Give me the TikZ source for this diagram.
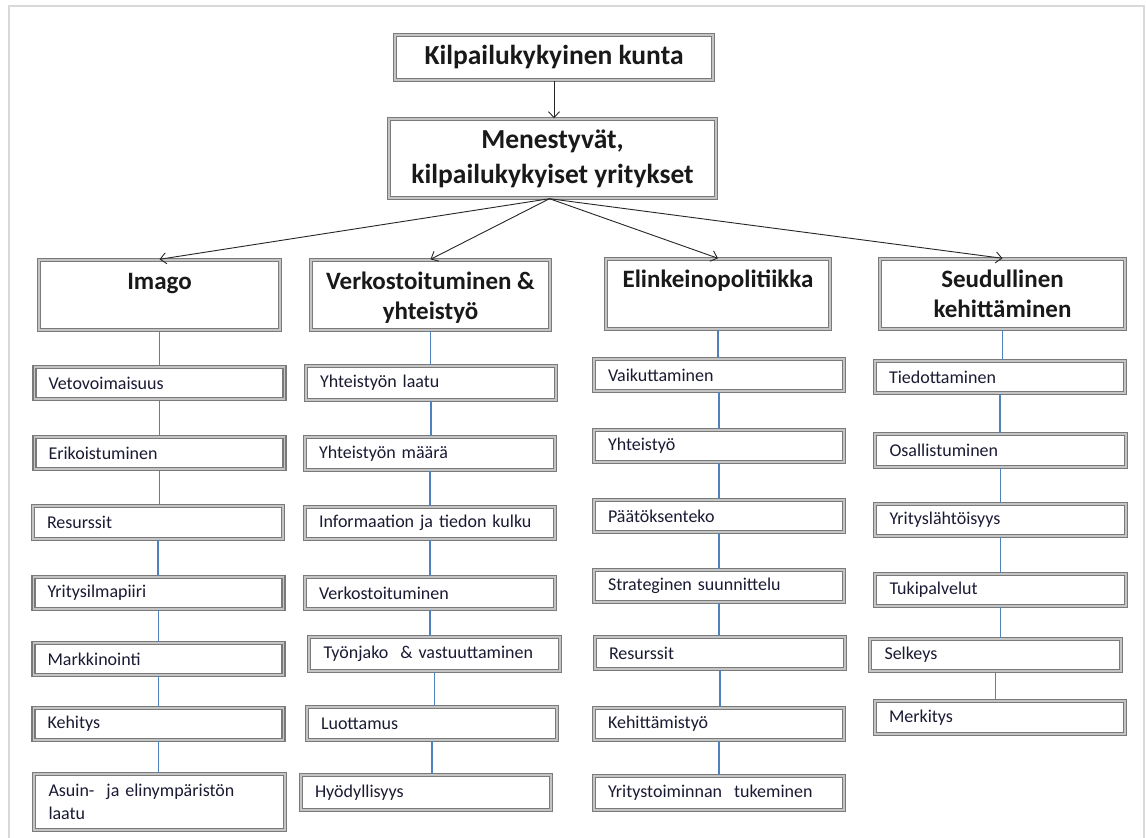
\documentclass[tikz,border=0pt]{standalone}
\usepackage{fontspec}
\setmainfont{Carlito}
\usetikzlibrary{arrows.meta}
\definecolor{boxgray}{HTML}{7A7A7A}
\definecolor{boxlight}{HTML}{C4C4C4}
\definecolor{conblue}{HTML}{4F81BD}
\definecolor{txt}{HTML}{1A1A33}
\definecolor{framegray}{HTML}{D9D9D9}
\tikzset{
  frm/.style={draw=boxgray, double=boxlight, line width=1.4pt, double distance=1.5pt, fill=white},
  sub/.style={frm, inner xsep=14pt, inner ysep=0pt, text width=222pt, align=left,
              font=\fontsize{18}{23}\selectfont, text=txt},
  catbox/.style={frm, inner sep=0pt},
  cattext/.style={font=\bfseries\fontsize{25}{30}\selectfont, align=center, anchor=base,
                  inner sep=0pt, text=black!90},
  topbox/.style={frm, inner sep=0pt, align=center, font=\bfseries\fontsize{27.5}{35}\selectfont, text=black!90},
  conn/.style={draw=conblue, line width=1.3pt},
  arr/.style={draw=black!85, line width=0.9pt, -{Straight Barb[length=6pt,width=11pt]}},
}
\newcommand\subnode[6]{\node[sub, minimum width={#4-#2-4}, minimum height={#5-#3-4}]
  (#1) at ({(#2+#4)/2},{(#3+#5)/2}) {#6};}
\newcommand\catnode[6]{\node[catbox, minimum width={#4-#2-4}, minimum height={#5-#3-4}]
  (#1) at ({(#2+#4)/2},{(#3+#5)/2}) {};}
\begin{document}
\begin{tikzpicture}[x=1pt,y=-1pt]
\useasboundingbox (0,0) rectangle (1146,838);
\fill[white] (0,0) rectangle (1146,838);
\draw[framegray, line width=2pt] (9,838) -- (9,6) -- (1144,6) -- (1144,838);

% top boxes
\node[topbox, minimum width=318, minimum height=45] (t1) at (554,57.5) {Kilpailukykyinen kunta};
\node[topbox, minimum width=327, minimum height=79] (t2) at (552.5,158.5) {Menestyvät,\\kilpailukykyiset yritykset};

% category boxes
\catnode{c1}{37}{258}{282}{332}{}
\catnode{c2}{309}{258}{552}{332}{}
\catnode{c3}{604}{257}{832}{331}{}
\catnode{c4}{878}{257}{1127}{331}{}
\node[cattext] (c1t) at ([yshift=-30pt]c1.north) {Imago};
\node[cattext] (c2t) at ([yshift=-60pt]c2.north) {Verkostoituminen \&\\yhteistyö};
\node[cattext] (c3t) at ([yshift=-29pt]c3.north) {Elinkeinopolitiikka};
\node[cattext] (c4t) at ([yshift=-59pt]c4.north) {Seudullinen\\kehittäminen};

% column 1
\subnode{s11}{33}{365}{286}{401}{Vetovoimaisuus}
\subnode{s12}{33}{435}{286}{471}{Erikoistuminen}
\subnode{s13}{32}{504}{284}{541}{Resurssit}
\subnode{s14}{32}{575}{285}{611}{Yritysilmapiiri}
\subnode{s15}{32}{641}{285}{677}{Markkinointi}
\subnode{s16}{32}{706}{285}{742}{Kehitys}
\subnode{s17}{32}{772}{287}{832}{Asuin-~ ja elinympäristön\\laatu}

% column 2
\subnode{s21}{305}{364}{557}{402}{Yhteistyön laatu}
\subnode{s22}{304}{435}{556}{472}{Yhteistyön määrä}
\subnode{s23}{304}{505}{556}{541}{Informaation ja tiedon kulku}
\subnode{s24}{304}{575}{556}{611}{Verkostoituminen}
\subnode{s25}{307}{635}{562}{673}{Työnjako~ \& vastuuttaminen}
\subnode{s26}{305}{705}{559}{742}{Luottamus}
\subnode{s27}{299}{773}{553}{812}{Hyödyllisyys}

% column 3
\subnode{s31}{593}{357}{845}{393}{Vaikuttaminen}
\subnode{s32}{592}{428}{846}{464}{Yhteistyö}
\subnode{s33}{592}{498}{846}{534}{Päätöksenteko}
\subnode{s34}{592}{568}{846}{604}{Strateginen suunnittelu}
\subnode{s35}{594}{635}{846}{671}{Resurssit}
\subnode{s36}{592}{706}{846}{742}{Kehittämistyö}
\subnode{s37}{592}{774}{846}{812}{Yritystoiminnan~ tukeminen}

% column 4
\subnode{s41}{873}{359}{1127}{395}{Tiedottaminen}
\subnode{s42}{873}{432}{1128}{469}{Osallistuminen}
\subnode{s43}{873}{502}{1128}{538}{Yrityslähtöisyys}
\subnode{s44}{873}{572}{1128}{608}{Tukipalvelut}
\subnode{s45}{868}{637}{1123}{673}{Selkeys}
\subnode{s46}{873}{699}{1127}{736}{Merkitys}

% connectors
\foreach \c in {1,2,3,4}{
  \draw[conn] (c\c.south) -- (c\c.south |- s\c1.north);
}
\foreach \a/\b in {s11/s12,s12/s13,s13/s14,s14/s15,s15/s16,s16/s17,
                   s21/s22,s22/s23,s23/s24,s24/s25,s25/s26,s26/s27,
                   s31/s32,s32/s33,s33/s34,s34/s35,s35/s36,s36/s37,
                   s41/s42,s42/s43,s43/s44,s44/s45,s45/s46}{
  \draw[conn] (\a.south) -- (\a.south |- \b.north);
}

% arrows
\draw[arr] (t1.south) -- (t1.south |- t2.north);
\draw[arr] ([xshift=-3pt]t2.south) -- (c1.north);
\draw[arr] ([xshift=-3pt]t2.south) -- (c2.north);
\draw[arr] ([xshift=-3pt]t2.south) -- (c3.north);
\draw[arr] ([xshift=-3pt]t2.south) -- (c4.north);
\end{tikzpicture}
\end{document}
